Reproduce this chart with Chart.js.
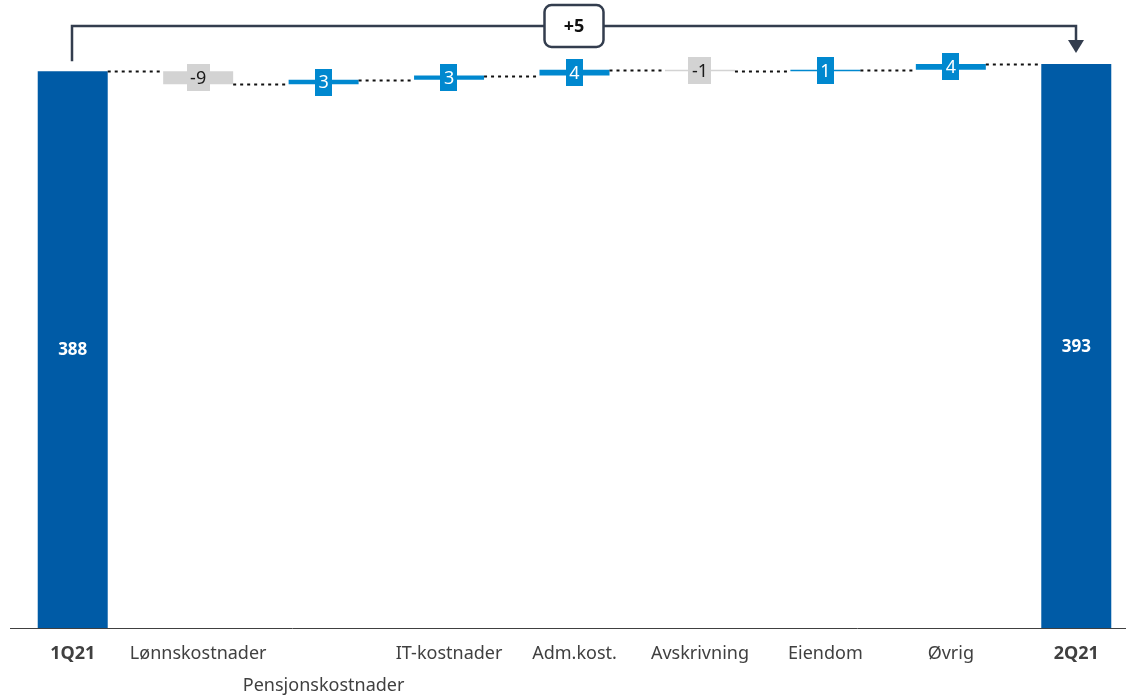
<!DOCTYPE html>
<html>
<head>
<meta charset="utf-8">
<script src="https://cdn.jsdelivr.net/npm/chart.js@4/dist/chart.umd.min.js"></script>
<style>
  html, body { margin: 0; padding: 0; background: #fff; overflow: hidden; }
  #wrap { width: 1140px; height: 695px; position: relative; }
</style>
</head>
<body>
<div id="wrap"><canvas id="c"></canvas></div>
<script>
// waterfall: 1Q21 -> 2Q21 cost bridge
const categories = ['1Q21', 'Lønnskostnader', 'Pensjonskostnader', 'IT-kostnader', 'Adm.kost.', 'Avskrivning', 'Eiendom', 'Øvrig', '2Q21'];
const startValue = 388;
const deltas = [-9, 3, 3, 4, -1, 1, 4];
const endValue = 393;

const TOTAL = '#005BA6', UP = '#0088CF', DOWN = '#D3D3D3', LINE = '#333D4E';
const FONT = '"Noto Sans", "Open Sans", sans-serif';

// build floating bars [from, to]
const ranges = [[0, startValue]];
const kinds = ['total'];
let run = startValue;
deltas.forEach(d => {
  ranges.push([run, run + d]);
  kinds.push(d >= 0 ? 'up' : 'down');
  run += d;
});
ranges.push([0, endValue]);
kinds.push('total');

const colors = kinds.map(k => k === 'total' ? TOTAL : (k === 'up' ? UP : DOWN));

const connectorPlugin = {
  id: 'connectors',
  afterDatasetsDraw(chart) {
    const { ctx } = chart;
    const meta = chart.getDatasetMeta(0);
    const y = chart.scales.y;
    ctx.save();
    ctx.strokeStyle = '#111';
    ctx.lineWidth = 2;
    ctx.setLineDash([3, 4]);
    for (let i = 0; i < meta.data.length - 1; i++) {
      const a = meta.data[i], b = meta.data[i + 1];
      const level = ranges[i][1];
      const py = Math.round(y.getPixelForValue(level)) + 0.5;
      ctx.beginPath();
      ctx.moveTo(a.x + a.width / 2, py);
      ctx.lineTo(b.x - b.width / 2, py);
      ctx.stroke();
    }
    ctx.restore();
  }
};

const labelPlugin = {
  id: 'valueLabels',
  afterDatasetsDraw(chart) {
    const { ctx } = chart;
    const meta = chart.getDatasetMeta(0);
    ctx.save();
    ctx.textAlign = 'center';
    ctx.textBaseline = 'middle';
    meta.data.forEach((bar, i) => {
      const cy = (bar.y + bar.base) / 2;
      if (kinds[i] === 'total') {
        ctx.font = 'bold 17px ' + FONT;
        ctx.fillStyle = '#fff';
        ctx.fillText(String(ranges[i][1]), bar.x, cy + 1);
        return;
      }
      const txt = String(deltas[i - 1]);
      ctx.font = '18px ' + FONT;
      const w = ctx.measureText(txt).width + 7;
      const h = 27;
      ctx.fillStyle = colors[i];
      ctx.fillRect(Math.round(bar.x - w / 2), Math.round(cy - h / 2), Math.round(w), h);
      ctx.fillStyle = kinds[i] === 'up' ? '#fff' : '#1a1a1a';
      ctx.fillText(txt, bar.x, cy + 1);
    });
    ctx.restore();
  }
};

const bracketPlugin = {
  id: 'bracket',
  afterDraw(chart) {
    const { ctx } = chart;
    const meta = chart.getDatasetMeta(0);
    const y = chart.scales.y;
    const first = meta.data[0], last = meta.data[meta.data.length - 1];
    const top = 26;
    const x1 = Math.round(first.x) - 1, x2 = Math.round(last.x);
    const y1 = y.getPixelForValue(startValue) - 10;
    const tip = y.getPixelForValue(endValue) - 11;
    ctx.save();
    ctx.strokeStyle = LINE;
    ctx.lineWidth = 2.5;
    ctx.beginPath();
    ctx.moveTo(x1, y1);
    ctx.lineTo(x1, top);
    ctx.lineTo(x2, top);
    ctx.lineTo(x2, tip - 12);
    ctx.stroke();
    ctx.fillStyle = LINE;
    ctx.beginPath();
    ctx.moveTo(x2 - 8, tip - 13);
    ctx.lineTo(x2 + 8, tip - 13);
    ctx.lineTo(x2, tip);
    ctx.closePath();
    ctx.fill();
    // difference box
    const cx = (x1 + x2) / 2, bw = 59, bh = 42, r = 7;
    ctx.beginPath();
    ctx.roundRect(cx - bw / 2, top - bh / 2, bw, bh, r);
    ctx.fillStyle = '#fff';
    ctx.fill();
    ctx.stroke();
    const diff = endValue - startValue;
    ctx.fillStyle = '#111';
    ctx.font = 'bold 18px ' + FONT;
    ctx.textAlign = 'center';
    ctx.textBaseline = 'middle';
    ctx.fillText((diff > 0 ? '+' : '') + diff, cx, top + 1);
    ctx.restore();
  }
};

new Chart(document.getElementById('c'), {
  type: 'bar',
  data: {
    labels: categories,
    datasets: [{
      data: ranges,
      backgroundColor: colors,
      borderWidth: 0,
      barPercentage: 0.558,
      categoryPercentage: 1
    }]
  },
  options: {
    responsive: true,
    maintainAspectRatio: false,
    animation: false,
    layout: { padding: { top: 11, left: 10, right: 1, bottom: 0 } },
    plugins: { legend: { display: false }, tooltip: { enabled: false } },
    scales: {
      x: {
        grid: { display: false, drawTicks: false },
        border: { display: true, color: '#404040', width: 1 },
        afterFit: s => { s.height = 67; },
        ticks: {
          autoSkip: false,
          maxRotation: 0,
          padding: 10,
          color: '#404040',
          font: ctx => ({
            family: FONT,
            size: 18,
            lineHeight: 1.78,
            weight: (ctx.index === 0 || ctx.index === categories.length - 1) ? 'bold' : 'normal'
          }),
          callback: (v, i) => i === 2 ? ['', categories[i]] : categories[i]
        }
      },
      y: {
        display: false,
        min: 0,
        max: 430
      }
    }
  },
  plugins: [connectorPlugin, labelPlugin, bracketPlugin]
});
</script>
</body>
</html>
